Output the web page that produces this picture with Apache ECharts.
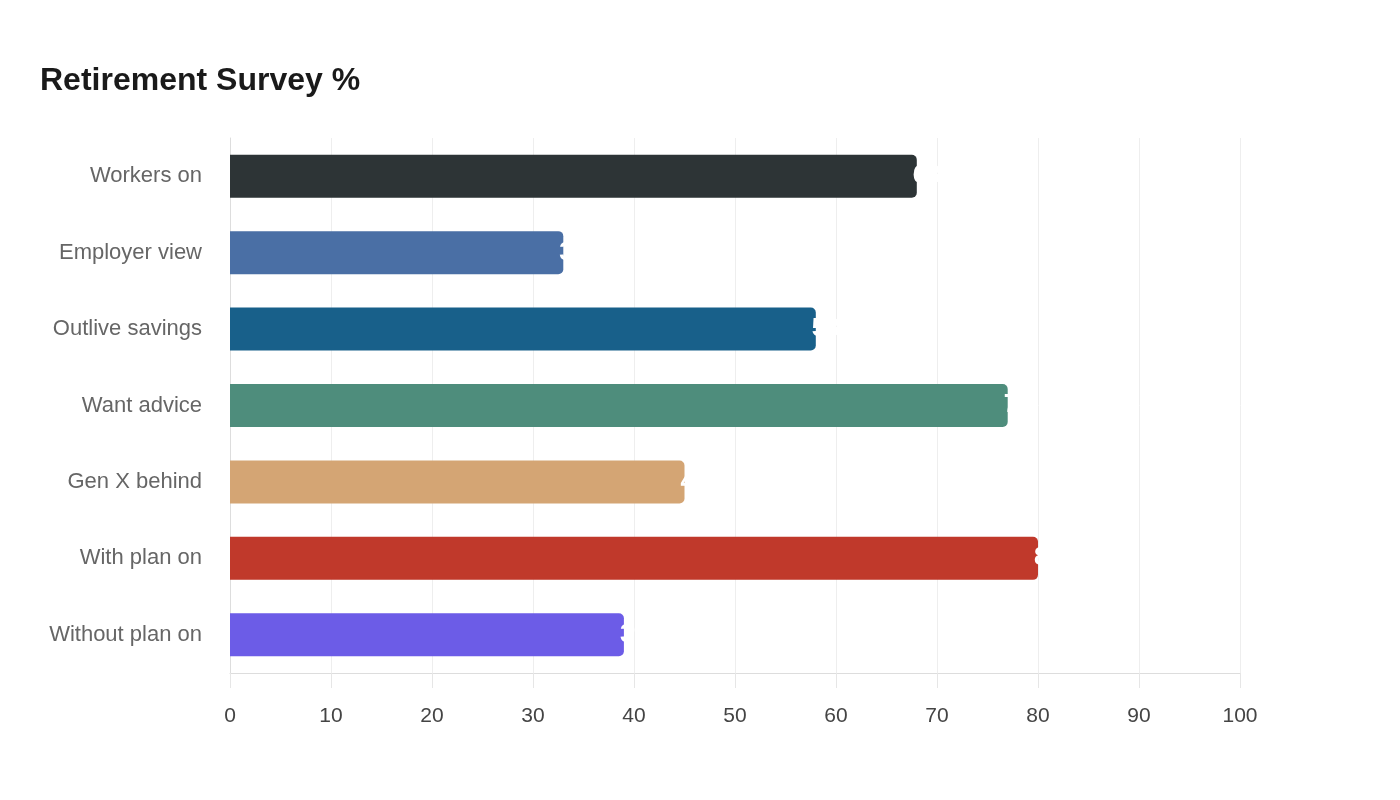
<!DOCTYPE html>
<html>
<head>
<meta charset="utf-8">
<script src="https://cdn.jsdelivr.net/npm/echarts@6/dist/echarts.min.js"></script>
<style>
html,body{margin:0;padding:0;background:#fff;}
#chart{width:1400px;height:800px;}
</style>
</head>
<body>
<div id="chart"></div>
<script>
const categories = ["Workers on", "Employer view", "Outlive savings", "Want advice", "Gen X behind", "With plan on", "Without plan on"];
const values = [68, 33, 58, 77, 45, 80, 39];
const barColors = ["#2d3436", "#4a6fa5", "#18608a", "#4e8d7c", "#d4a574", "#c0392b", "#6c5ce7"];
const xTicks = [0, 10, 20, 30, 40, 50, 60, 70, 80, 90, 100];

const chart = echarts.init(document.getElementById('chart'));
chart.setOption({
  animation: false,
  backgroundColor: '#ffffff',
  title: {
    text: 'Retirement Survey %',
    left: 35,
    top: 60,
    textStyle: { fontFamily: 'Liberation Sans', fontSize: 32, fontWeight: 'bold', color: '#1a1a1a' }
  },
  grid: { left: 230, right: 160, top: 138, bottom: 127, containLabel: false },
  xAxis: {
    type: 'value',
    min: xTicks[0],
    max: xTicks[xTicks.length - 1],
    interval: 10,
    axisLine: { show: true, lineStyle: { color: '#dddddd', width: 1 } },
    axisTick: { show: true, length: 15, lineStyle: { color: '#e6e6e6' } },
    splitLine: { show: true, lineStyle: { color: '#eeeeee', width: 1 } },
    axisLabel: { fontFamily: 'Liberation Sans', fontSize: 21, color: '#444444', margin: 33 }
  },
  yAxis: {
    type: 'category',
    data: categories,
    inverse: true,
    axisLine: { show: true, lineStyle: { color: '#dddddd' } },
    axisTick: { show: false },
    splitLine: { show: false },
    axisLabel: { fontFamily: 'Liberation Sans', fontSize: 22, color: '#666666', margin: 28 }
  },
  series: [{
    type: 'bar',
    data: values.map((v, i) => ({ value: v, itemStyle: { color: barColors[i] } })),
    barWidth: 43,
    itemStyle: { borderRadius: [0, 5, 5, 0] },
    label: {
      show: true,
      position: 'right',
      distance: -4,
      color: '#ffffff',
      fontFamily: 'Liberation Sans',
      fontWeight: 'bold',
      fontSize: 25
    }
  }]
});
</script>
</body>
</html>
